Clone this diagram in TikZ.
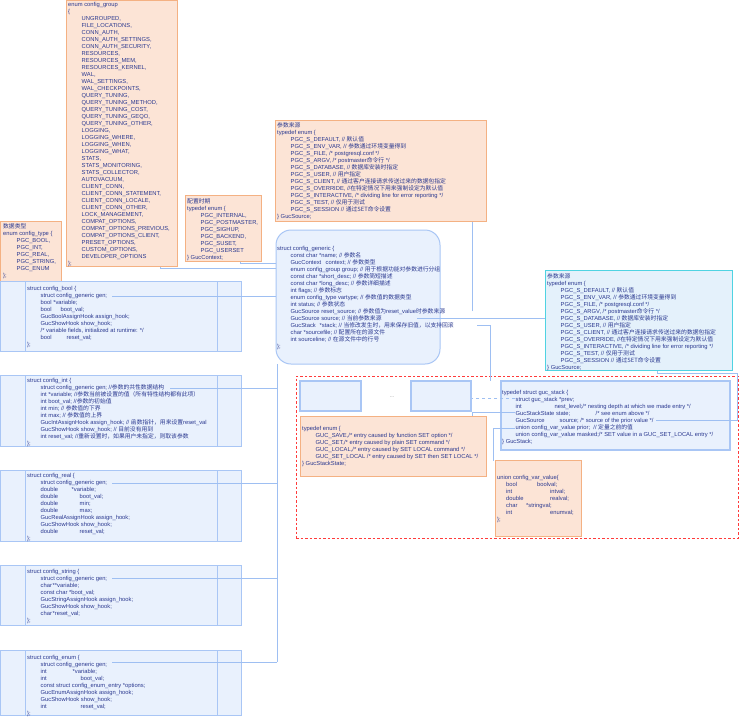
\documentclass[tikz,border=0pt]{standalone}
\usepackage{fontspec}
\setmainfont{Liberation Sans}
\newfontfamily\cjk{Noto Sans CJK SC}
\usetikzlibrary{fit}
\definecolor{txtc}{HTML}{2B3990}
\definecolor{obd}{HTML}{F4B183}
\definecolor{ofl}{HTML}{FCE4D6}
\definecolor{bbd}{HTML}{A9C6F5}
\definecolor{bfl}{HTML}{E9F1FD}
\definecolor{cbd}{HTML}{4FD3E2}
\definecolor{cfl}{HTML}{E4F1FB}
\definecolor{lnc}{HTML}{9EBFF2}
\definecolor{redd}{HTML}{FF3B3B}
\newcommand\zh[1]{{\cjk #1}}
\newcommand\I{\hspace*{13.5pt}}
\newcommand\J{\hspace*{9pt}}
\newcommand\T[2]{\makebox[#1pt][l]{#2}}
\newcommand\st{\rule{0pt}{5pt}}
\tikzset{
 obox/.style={draw=obd, fill=ofl, line width=1pt, inner sep=0pt},
 bbox/.style={draw=bbd, fill=bfl, line width=1pt, inner sep=0pt},
 cbox/.style={draw=cbd, fill=cfl, line width=1pt, inner sep=0pt},
 rbox/.style={draw=bbd, fill=bfl, line width=1pt, inner sep=0pt, rounded corners=15pt},
 sbox/.style={draw=bbd, fill=bfl, line width=1.3pt, inner sep=0pt},
 txt/.style={anchor=north west, inner sep=0pt, align=left, text=txtc, font=\fontsize{5.8}{7}\selectfont},
 conn/.style={draw=lnc, line width=0.8pt},
 divl/.style={draw=bbd, line width=1pt},
}
\begin{document}
\begin{tikzpicture}[x=1pt,y=-1pt]
\useasboundingbox (0,0) rectangle (741,716);
\fill[white] (0,0) rectangle (741,716);

% ---------- boxes ----------
\node[obox, fit={(66,0) (177,266)}] (grp) {};
\node[obox, fit={(0,221) (61,281)}] (vtype) {};
\node[obox, fit={(185,195) (261,261)}] (ctime) {};
\node[obox, fit={(275,120) (486,221)}] (src1) {};
\node[rbox, fit={(276,230) (440,364)}] (gen) {};
\node[cbox, fit={(545,270) (732,370)}] (src2) {};

\node[bbox, fit={(0,281) (241,351)}] (bool) {};
\draw[divl] (25,281) -- (25,351) (217,281) -- (217,351);
\node[bbox, fit={(0,375) (241,446)}] (int) {};
\draw[divl] (25,375) -- (25,446) (217,375) -- (217,446);
\node[bbox, fit={(0,470) (241,541)}] (real) {};
\draw[divl] (25,470) -- (25,541) (217,470) -- (217,541);
\node[bbox, fit={(0,565) (241,625)}] (str) {};
\draw[divl] (25,565) -- (25,625) (217,565) -- (217,625);
\node[bbox, fit={(0,650) (241,715)}] (enum) {};
\draw[divl] (25,650) -- (25,715) (217,650) -- (217,715);

\node[draw=redd, line width=1pt, dash pattern=on 2.5pt off 2pt, inner sep=0pt, fit={(296,376) (738,538)}] (grpbox) {};
\node[sbox, fit={(300,381) (361,411)}] (sb1) {};
\node[sbox, fit={(411,381) (471,411)}] (sb2) {};
\node[text=gray, font=\fontsize{5}{6}\selectfont, inner sep=0pt] (dots) at (392,397) {...};
\node[obox, fit={(300,416) (486,476)}] (stst) {};
\node[sbox, fit={(501,381) (730,450)}] (gstack) {};
\node[obox, fit={(495,460) (581,536)}] (uni) {};

% ---------- texts ----------
\node[txt] (tgrp) at (68,1) {\st enum config\_group\\
\{\\
\I UNGROUPED,\\
\I FILE\_LOCATIONS,\\
\I CONN\_AUTH,\\
\I CONN\_AUTH\_SETTINGS,\\
\I CONN\_AUTH\_SECURITY,\\
\I RESOURCES,\\
\I RESOURCES\_MEM,\\
\I RESOURCES\_KERNEL,\\
\I WAL,\\
\I WAL\_SETTINGS,\\
\I WAL\_CHECKPOINTS,\\
\I QUERY\_TUNING,\\
\I QUERY\_TUNING\_METHOD,\\
\I QUERY\_TUNING\_COST,\\
\I QUERY\_TUNING\_GEQO,\\
\I QUERY\_TUNING\_OTHER,\\
\I LOGGING,\\
\I LOGGING\_WHERE,\\
\I LOGGING\_WHEN,\\
\I LOGGING\_WHAT,\\
\I STATS,\\
\I STATS\_MONITORING,\\
\I STATS\_COLLECTOR,\\
\I AUTOVACUUM,\\
\I CLIENT\_CONN,\\
\I CLIENT\_CONN\_STATEMENT,\\
\I CLIENT\_CONN\_LOCALE,\\
\I CLIENT\_CONN\_OTHER,\\
\I LOCK\_MANAGEMENT,\\
\I COMPAT\_OPTIONS,\\
\I COMPAT\_OPTIONS\_PREVIOUS,\\
\I COMPAT\_OPTIONS\_CLIENT,\\
\I PRESET\_OPTIONS,\\
\I CUSTOM\_OPTIONS,\\
\I DEVELOPER\_OPTIONS\\
\};};

\node[txt] (ttype) at (3,223) {\st\zh{数据类型}\\
enum config\_type \{\\
\I PGC\_BOOL,\\
\I PGC\_INT,\\
\I PGC\_REAL,\\
\I PGC\_STRING,\\
\I PGC\_ENUM\\
\};};

\node[txt] (tctime) at (187,198) {\st\zh{配置时期}\\
typedef enum \{\\
\I PGC\_INTERNAL,\\
\I PGC\_POSTMASTER,\\
\I PGC\_SIGHUP,\\
\I PGC\_BACKEND,\\
\I PGC\_SUSET,\\
\I PGC\_USERSET\\
\} GucContext;};

\node[txt] (tsrc1) at (277,122) {\st\zh{参数来源}\\
typedef enum \{\\
\I PGC\_S\_DEFAULT, // \zh{默认值}\\
\I PGC\_S\_ENV\_VAR, // \zh{参数通过环境变量得到}\\
\I PGC\_S\_FILE, /* postgresql.conf */\\
\I PGC\_S\_ARGV, /* postmaster\zh{命令行} */\\
\I PGC\_S\_DATABASE, // \zh{数据库安装时指定}\\
\I PGC\_S\_USER, // \zh{用户指定}\\
\I PGC\_S\_CLIENT, // \zh{通过客户连接请求传送过来的数据包指定}\\
\I PGC\_S\_OVERRIDE, //\zh{在特定情况下用来强制设定为默认值}\\
\I PGC\_S\_INTERACTIVE, /* dividing line for error reporting */\\
\I PGC\_S\_TEST, // \zh{仅用于测试}\\
\I PGC\_S\_SESSION // \zh{通过SET命令设置}\\
\} GucSource;};

\node[txt] (tsrc2) at (547,273) {\st\zh{参数来源}\\
typedef enum \{\\
\I PGC\_S\_DEFAULT, // \zh{默认值}\\
\I PGC\_S\_ENV\_VAR, // \zh{参数通过环境变量得到}\\
\I PGC\_S\_FILE, /* postgresql.conf */\\
\I PGC\_S\_ARGV, /* postmaster\zh{命令行} */\\
\I PGC\_S\_DATABASE, // \zh{数据库安装时指定}\\
\I PGC\_S\_USER, // \zh{用户指定}\\
\I PGC\_S\_CLIENT, // \zh{通过客户连接请求传送过来的数据包指定}\\
\I PGC\_S\_OVERRIDE, //\zh{在特定情况下用来强制设定为默认值}\\
\I PGC\_S\_INTERACTIVE, /* dividing line for error reporting */\\
\I PGC\_S\_TEST, // \zh{仅用于测试}\\
\I PGC\_S\_SESSION // \zh{通过SET命令设置}\\
\} GucSource;};

\node[txt] (tgen) at (277,245) {\st struct config\_generic \{\\
\I const char *name; // \zh{参数名}\\
\I \T{35}{GucContext}context; // \zh{参数类型}\\
\I enum config\_group group; // \zh{用于根据功能对参数进行分组}\\
\I const char *short\_desc; // \zh{参数简短描述}\\
\I const char *long\_desc; // \zh{参数详细描述}\\
\I int flags; // \zh{参数标志}\\
\I enum config\_type vartype; // \zh{参数值的数据类型}\\
\I int status; // \zh{参数状态}\\
\I GucSource reset\_source; // \zh{参数值为}reset\_value\zh{时参数来源}\\
\I GucSource source; // \zh{当前参数来源}\\
\I \T{29}{GucStack}*stack; // \zh{当修改发生时，用来保存旧值，以支持回滚}\\
\I char *sourcefile; // \zh{配置所在的源文件}\\
\I int sourceline; // \zh{在源文件中的行号}\\
\};};

\node[txt] (tbool) at (27,285) {\st struct config\_bool \{\\
\I struct config\_generic gen;\\
\I bool *variable;\\
\I \T{20}{bool}boot\_val;\\
\I GucBoolAssignHook assign\_hook;\\
\I GucShowHook show\_hook;\\
\I /* variable fields, initialized at runtime: */\\
\I \T{26}{bool}reset\_val;\\
\};};

\node[txt] (tint) at (27,377) {\st struct config\_int \{\\
\I struct config\_generic gen; //\zh{参数的共性数据结构}\\
\I int *variable; //\zh{参数当前被设置的值（所有特性结构都有此项）}\\
\I int boot\_val; //\zh{参数的初始值}\\
\I int min; // \zh{参数值的下界}\\
\I int max; // \zh{参数值的上界}\\
\I GucIntAssignHook assign\_hook; // \zh{函数指针，用来设置}reset\_val\\
\I GucShowHook show\_hook; // \zh{目前没有用到}\\
\I int reset\_val; //\zh{重新设置时，如果用户未指定，则取该参数}\\
\};};

\node[txt] (treal) at (27,472) {\st struct config\_real \{\\
\I struct config\_generic gen;\\
\I \T{31}{double}*variable;\\
\I \T{39}{double}boot\_val;\\
\I \T{39}{double}min;\\
\I \T{39}{double}max;\\
\I GucRealAssignHook assign\_hook;\\
\I GucShowHook show\_hook;\\
\I \T{39}{double}reset\_val;\\
\};};

\node[txt] (tstr) at (27,568) {\st struct config\_string \{\\
\I struct config\_generic gen;\\
\I \T{12}{char}**variable;\\
\I const char *boot\_val;\\
\I GucStringAssignHook assign\_hook;\\
\I GucShowHook show\_hook;\\
\I \T{12}{char}*reset\_val;\\
\};};

\node[txt] (tenum) at (27,654) {\st struct config\_enum \{\\
\I struct config\_generic gen;\\
\I \T{32}{int}*variable;\\
\I \T{40}{int}boot\_val;\\
\I const struct config\_enum\_entry *options;\\
\I GucEnumAssignHook assign\_hook;\\
\I GucShowHook show\_hook;\\
\I \T{40}{int}reset\_val;\\
\};};

\node[txt] (tstst) at (302,425) {\st typedef enum \{\\
\I GUC\_SAVE,/* entry caused by function SET option */\\
\I GUC\_SET,/* entry caused by plain SET command */\\
\I GUC\_LOCAL,/* entry caused by SET LOCAL command */\\
\I GUC\_SET\_LOCAL /* entry caused by SET then SET LOCAL */\\
\} GucStackState;};

\node[txt] (tgstack) at (502,389) {\st typedef struct guc\_stack \{\\
\I struct guc\_stack *prev;\\
\I \T{39}{int}nest\_level;/* nesting depth at which we made entry */\\
\I \T{80}{GucStackState state;}/* see enum above */\\
\I \T{44}{GucSource}source; /* source of the prior value */\\
\I union config\_var\_value prior;\ \ // \zh{定量之前的值}\\
\I union config\_var\_value masked;/* SET value in a GUC\_SET\_LOCAL entry */\\
\} GucStack;};

\node[txt] (tuni) at (497,474) {\st union config\_var\_value\{\\
\J \T{31}{bool}boolval;\\
\J \T{44}{int}intval;\\
\J \T{44}{double}realval;\\
\J \T{20}{char}*stringval;\\
\J \T{44}{int}enumval;\\
\};};

% ---------- connectors ----------
\coordinate (cbool) at (112,296);
\coordinate (cint) at (170,388);
\coordinate (creal) at (112,483);
\coordinate (cstr) at (112,578);
\coordinate (cenum) at (112,662);
\coordinate (trunk) at (277,364);
\draw[conn] (cbool) -- (cbool -| gen.west);
\draw[conn] (cint) -- (cint -| trunk);
\draw[conn] (creal) -- (creal -| trunk);
\draw[conn] (cstr) -- (cstr -| trunk);
\draw[conn] (cenum) -- (cenum -| trunk);
\draw[conn] (trunk) -- (cenum -| trunk);

\coordinate (cctx) at (276,263);
\coordinate (cgrp) at (276,268);
\draw[conn] (cctx) -| (240,261 |- ctime.south);
\draw[conn] (cgrp) -| (160,266 |- grp.south);

\coordinate (crs) at (472,311);
\draw[conn] (crs) -- (crs |- src1.south);
\coordinate (csrc) at (417,318);
\draw[conn] (csrc) -- (csrc -| src2.west);
\coordinate (cstk) at (477,325);
\draw[conn] (cstk) -| (490,381);

\coordinate (cprev) at (515,398);
\draw[conn, dashed] (cprev) -- (cprev -| sb2.east);
\coordinate (cstate) at (515,412);
\draw[conn] (cstate) -| (472,416 |- stst.north);
\coordinate (cgsrc) at (656,420);
\draw[conn] (cgsrc) -- (737,420) |- (657,373) -- (657,370 |- src2.south);
\coordinate (cprior) at (515,428);
\draw[conn] (cprior) -| (493,461);
\end{tikzpicture}
\end{document}
